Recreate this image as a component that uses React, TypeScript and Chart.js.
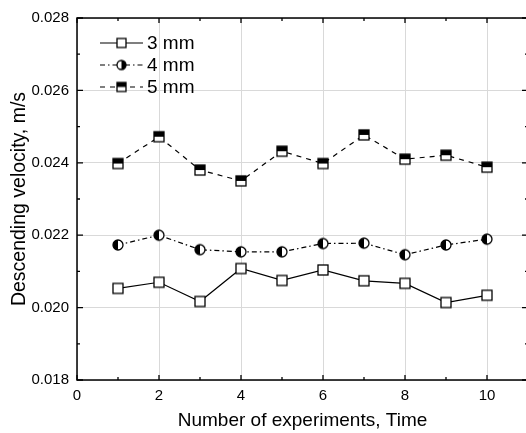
import React, { useEffect, useRef } from "react";
import { Chart, registerables } from "chart.js";
Chart.register(...registerables);

const experiments = [1, 2, 3, 4, 5, 6, 7, 8, 9, 10];
const v3mm = [0.02053, 0.0207, 0.02017, 0.02108, 0.02075, 0.02104, 0.02074, 0.02067, 0.02014, 0.02034];
const v4mm = [0.02173, 0.022, 0.0216, 0.02154, 0.02154, 0.02177, 0.02178, 0.02146, 0.02173, 0.02189];
const v5mm = [0.02398, 0.02472, 0.0238, 0.0235, 0.02432, 0.02398, 0.02477, 0.0241, 0.02421, 0.02388];
const seriesLabels = ["3 mm", "4 mm", "5 mm"];
const xTicksMajor = [0, 2, 4, 6, 8, 10];
const yTicksMajor = [0.018, 0.02, 0.022, 0.024, 0.026, 0.028];

const FONT = "'Liberation Sans', Arial, sans-serif";

function makeMarker(kind: string, size: number): HTMLCanvasElement {
  const c = document.createElement("canvas");
  const s = size + 4;
  c.width = s;
  c.height = s;
  const ctx = c.getContext("2d")!;
  const cx = s / 2;
  const cy = s / 2;
  const h = size / 2;
  ctx.lineWidth = 1.3;
  ctx.strokeStyle = "#000";
  if (kind === "square") {
    ctx.fillStyle = "#fff";
    ctx.fillRect(cx - h, cy - h, size, size);
    ctx.strokeRect(cx - h, cy - h, size, size);
  } else if (kind === "halfcircleL" || kind === "halfcircleR") {
    ctx.beginPath();
    ctx.arc(cx, cy, h, 0, Math.PI * 2);
    ctx.fillStyle = "#fff";
    ctx.fill();
    ctx.beginPath();
    if (kind === "halfcircleL") ctx.arc(cx, cy, h, Math.PI / 2, (Math.PI * 3) / 2);
    else ctx.arc(cx, cy, h, -Math.PI / 2, Math.PI / 2);
    ctx.closePath();
    ctx.fillStyle = "#000";
    ctx.fill();
    ctx.beginPath();
    ctx.arc(cx, cy, h, 0, Math.PI * 2);
    ctx.stroke();
  } else if (kind === "halfsquare") {
    ctx.fillStyle = "#fff";
    ctx.fillRect(cx - h, cy - h, size, size);
    ctx.fillStyle = "#000";
    ctx.fillRect(cx - h, cy - h, size, size / 2);
    ctx.strokeRect(cx - h, cy - h, size, size);
  }
  return c;
}

const frameTicksPlugin = {
  id: "frameTicks",
  afterDatasetsDraw(chart: any) {
    const { ctx, chartArea: a, scales } = chart;
    const xs = scales.x;
    const ys = scales.y;
    ctx.save();
    ctx.strokeStyle = "#000";
    ctx.lineWidth = 1.5;
    ctx.strokeRect(a.left, a.top, a.right - a.left, a.bottom - a.top);
    ctx.lineWidth = 1.3;
    for (let v = 0; v <= 11; v += 1) {
      const len = v % 2 === 0 ? 5 : 3;
      const px = xs.getPixelForValue(v);
      ctx.beginPath();
      ctx.moveTo(px, a.bottom);
      ctx.lineTo(px, a.bottom - len);
      ctx.moveTo(px, a.top);
      ctx.lineTo(px, a.top + len);
      ctx.stroke();
    }
    for (let i = 0; i <= 10; i++) {
      const v = 0.018 + i * 0.001;
      const len = i % 2 === 0 ? 6 : 3;
      const py = ys.getPixelForValue(v);
      ctx.beginPath();
      ctx.moveTo(a.left, py);
      ctx.lineTo(a.left + len, py);
      ctx.moveTo(a.right, py);
      ctx.lineTo(a.right - len, py);
      ctx.stroke();
    }
    // legend
    const items = [
      { dash: [], marker: makeMarker("square", 9) },
      { dash: [5, 3, 1.5, 3], marker: makeMarker("halfcircleR", 9) },
      { dash: [5, 5], marker: makeMarker("halfsquare", 9) },
    ];
    const x0 = 100;
    const x1 = 143;
    const rows = [43, 65, 87];
    ctx.font = "19px " + FONT;
    ctx.textBaseline = "middle";
    ctx.fillStyle = "#000";
    items.forEach((it, i) => {
      const y = rows[i];
      ctx.setLineDash(it.dash);
      ctx.lineWidth = 1.2;
      ctx.beginPath();
      ctx.moveTo(x0, y);
      ctx.lineTo(x1, y);
      ctx.stroke();
      ctx.setLineDash([]);
      const m = it.marker;
      ctx.drawImage(m, (x0 + x1) / 2 - m.width / 2, y - m.height / 2);
      ctx.fillText(seriesLabels[i], 147, y + 1);
    });
    ctx.restore();
  },
};

export default function App() {
  const ref = useRef<HTMLCanvasElement>(null);
  useEffect(() => {
    const canvas = ref.current!;
    const mk3 = makeMarker("square", 10);
    const mk4 = makeMarker("halfcircleL", 10);
    const mk5 = makeMarker("halfsquare", 10);
    const toPts = (arr: number[]) => arr.map((v, i) => ({ x: experiments[i], y: v }));
    const chart = new Chart(canvas, {
      type: "line",
      data: {
        datasets: [
          {
            label: seriesLabels[0],
            data: toPts(v3mm),
            borderColor: "#000",
            borderWidth: 1.2,
            pointStyle: mk3 as any,
            pointRadius: 6,
          },
          {
            label: seriesLabels[1],
            data: toPts(v4mm),
            borderColor: "#000",
            borderWidth: 1.2,
            borderDash: [5, 3, 1.5, 3],
            pointStyle: mk4 as any,
            pointRadius: 6,
          },
          {
            label: seriesLabels[2],
            data: toPts(v5mm),
            borderColor: "#000",
            borderWidth: 1.2,
            borderDash: [5, 5],
            pointStyle: mk5 as any,
            pointRadius: 6,
          },
        ],
      },
      options: {
        animation: false,
        responsive: false,
        devicePixelRatio: 1,
        layout: { autoPadding: false, padding: { top: 18, right: 0, left: 0, bottom: 0 } },
        plugins: { legend: { display: false }, tooltip: { enabled: false } },
        scales: {
          x: {
            type: "linear",
            min: 0,
            max: 11,
            afterBuildTicks: (s: any) => {
              s.ticks = xTicksMajor.map((v) => ({ value: v }));
            },
            afterFit: (s: any) => {
              s.height = 53;
              s.paddingRight = 0;
              s.paddingLeft = 0;
            },
            ticks: {
              color: "#000",
              font: { size: 15, family: FONT },
              padding: 7,
              maxRotation: 0,
              callback: (v: any) => String(v),
            },
            grid: { color: "#d9d9d9", lineWidth: 1, drawTicks: false },
            border: { display: false },
            title: {
              display: true,
              text: "Number of experiments, Time",
              color: "#000",
              font: { size: 19, family: FONT },
              padding: { top: 0, bottom: 1 },
            },
          },
          y: {
            type: "linear",
            min: 0.018,
            max: 0.028,
            afterBuildTicks: (s: any) => {
              s.ticks = yTicksMajor.map((v) => ({ value: v }));
            },
            afterFit: (s: any) => {
              s.width = 77;
              s.paddingTop = 0;
              s.paddingBottom = 0;
            },
            ticks: {
              color: "#000",
              font: { size: 15, family: FONT },
              padding: 8,
              callback: (v: any) => Number(v).toFixed(3),
            },
            grid: { color: "#d9d9d9", lineWidth: 1, drawTicks: false },
            border: { display: false },
            title: {
              display: true,
              text: "Descending velocity, m/s",
              color: "#000",
              font: { size: 19.5, family: FONT },
              padding: { top: 8, bottom: 0 },
            },
          },
        },
      },
      plugins: [frameTicksPlugin],
    });
    return () => chart.destroy();
  }, []);
  return (
    <div style={{ position: "fixed", left: 0, top: 0, width: 526, height: 433, overflow: "hidden", background: "#fff" }}>
      <canvas ref={ref} width={528} height={433} style={{ width: 528, height: 433, display: "block" }} />
    </div>
  );
}
